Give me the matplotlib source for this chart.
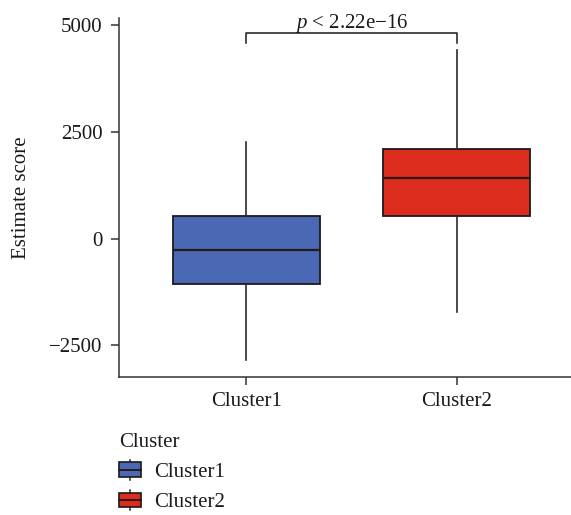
import matplotlib
matplotlib.use("Agg")
import matplotlib.pyplot as plt
from matplotlib.legend_handler import HandlerBase
from matplotlib.patches import Rectangle, Patch
from matplotlib.lines import Line2D

# ---- data ----
clusters = ["Cluster1", "Cluster2"]
whisker_low = [-2848, -1730]
q1 = [-1073, 520]
median = [-270, 1418]
q3 = [520, 2105]
whisker_high = [2262, 4418]
box_colors = ["#4a68b4", "#dc2c1d"]
yticks = [-2500, 0, 2500, 5000]
ytick_labels = ["\u22122500", "0", "2500", "5000"]
p_text = "$p$ < 2.22e\u221216"
ylabel = "Estimate score"
legend_title = "Cluster"

plt.rcParams['font.family'] = ['Liberation Serif', 'DejaVu Serif']
plt.rcParams['mathtext.fontset'] = 'custom'
plt.rcParams['mathtext.rm'] = 'Liberation Serif'
plt.rcParams['mathtext.it'] = 'Liberation Serif:italic'

FS = 15

fig = plt.figure(figsize=(5.71, 5.15), dpi=100)
ax = fig.add_axes([0.209, 0.2685, 0.791, 0.6965])

positions = list(range(1, len(clusters) + 1))
stats = [dict(label=c, whislo=wl, q1=a, med=m, q3=b, whishi=wh)
         for c, wl, a, m, b, wh in zip(clusters, whisker_low, q1, median, q3, whisker_high)]
bp = ax.bxp(stats, positions=positions, widths=0.70, patch_artist=True,
            showfliers=False, showcaps=False,
            boxprops=dict(edgecolor='#1a1a1a', linewidth=1.3),
            medianprops=dict(color='#2a1a18', linewidth=1.6),
            whiskerprops=dict(color='#2b2b2b', linewidth=1.2))
for patch, c in zip(bp['boxes'], box_colors):
    patch.set_facecolor(c)

ax.set_xlim(0.396, 2.543)
ax.set_ylim(-3239, 5168)
for s in ['top', 'right']:
    ax.spines[s].set_visible(False)
for s in ['left', 'bottom']:
    ax.spines[s].set_color('#333333')
    ax.spines[s].set_linewidth(1.1)
ax.set_yticks(yticks)
ax.set_yticklabels(ytick_labels)
ax.set_xticks(positions)
ax.set_xticklabels(clusters)
ax.tick_params(axis='both', length=6, width=1.1, color='#333333',
               labelsize=FS, labelcolor='#1a1a1a')
ax.tick_params(axis='y', pad=6)
ax.tick_params(axis='x', pad=5)
ax.set_ylabel(ylabel, fontsize=FS, color='#1a1a1a')
ax.yaxis.set_label_coords(-0.195, 0.5)

# significance bracket
top = max(whisker_high)
y_lo = top * 1.037
y_hi = top * 1.0886
ax.plot([positions[0], positions[0], positions[1], positions[1]],
        [y_lo, y_hi, y_hi, y_lo], color='#1a1a1a', lw=1.1, clip_on=False)
ax.text((positions[0] + positions[1]) / 2, y_hi + 125, p_text, ha='center',
        va='baseline', fontsize=FS, color='#1a1a1a', clip_on=False)


class BoxHandler(HandlerBase):
    def create_artists(self, legend, orig_handle, xdescent, ydescent,
                       width, height, fontsize, trans):
        x0, y0 = -xdescent, -ydescent
        stub = 0.18 * height
        xm = x0 + width / 2
        w1 = Line2D([xm, xm], [y0 + height, y0 + height + stub], color='#2b2b2b', lw=1.1, transform=trans)
        w2 = Line2D([xm, xm], [y0 - stub, y0], color='#2b2b2b', lw=1.1, transform=trans)
        r = Rectangle((x0, y0), width, height, facecolor=orig_handle.get_facecolor(),
                      edgecolor='#1a1a1a', lw=1.2, transform=trans)
        m = Line2D([x0, x0 + width], [y0 + height / 2] * 2, color='#2a1a18', lw=1.4, transform=trans)
        return [w1, w2, r, m]


handles = [Patch(facecolor=c) for c in box_colors]
leg = fig.legend(handles, clusters, title=legend_title, loc='upper left',
                 bbox_to_anchor=(119 / 571, 1 - 433 / 515), frameon=False,
                 fontsize=FS, title_fontsize=FS, borderpad=0, borderaxespad=0,
                 handlelength=1.05, handleheight=0.72, handletextpad=0.62,
                 labelspacing=0.5, alignment='left',
                 handler_map={Patch: BoxHandler()})
for t in leg.get_texts():
    t.set_color('#1a1a1a')
leg.get_title().set_color('#1a1a1a')

fig.savefig("out.png", dpi=100)
